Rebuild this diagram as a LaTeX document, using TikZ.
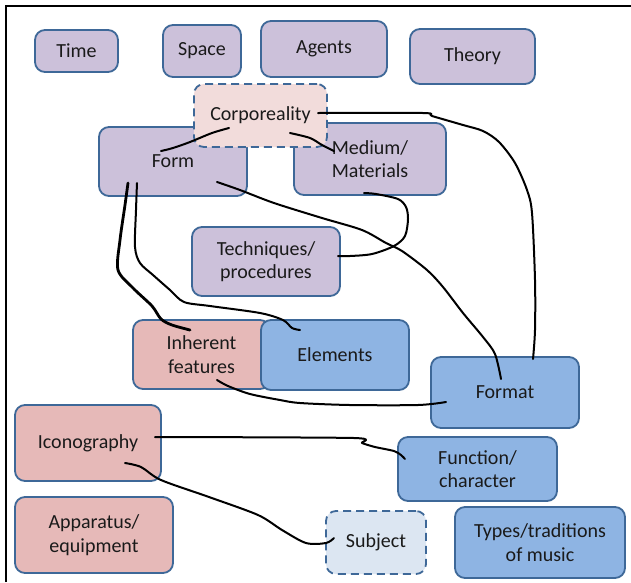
\documentclass[tikz,border=0pt]{standalone}
\usepackage{fontspec}
\setmainfont{Carlito}
\usetikzlibrary{calc}
\definecolor{purp}{HTML}{CCC1DA}
\definecolor{pinkf}{HTML}{E6B9B8}
\definecolor{bluef}{HTML}{8EB4E3}
\definecolor{lpink}{HTML}{F2DCDB}
\definecolor{lblue}{HTML}{DCE6F2}
\definecolor{bord}{RGB}{62,104,152}
\definecolor{txt}{HTML}{1A1A1A}
\begin{document}
\begin{tikzpicture}[x=1pt,y=-1pt,
  box/.style={draw=bord, line width=1.8pt, rounded corners=10pt, inner sep=0pt,
    align=center, font=\fontsize{20}{23.5}\selectfont, text=txt},
  pbox/.style={box, fill=purp},
  rbox/.style={box, fill=pinkf},
  bbox/.style={box, fill=bluef},
  dbox/.style={box, dash pattern=on 8pt off 5pt},
  conn/.style={line width=2pt, line cap=round, line join=round},
  sz/.style 2 args={minimum width=#1pt, minimum height=#2pt}]
\useasboundingbox (0,0) rectangle (631,582);
\fill[white] (0,0) rectangle (631,582);
\draw[line width=2pt] (6,582) -- (6,5.5) -- (631,5.5);

\node[pbox, sz={83}{42}] (time) at (76.5,51) {Time};
\node[pbox, sz={78}{52}] (space) at (202,51) {Space};
\node[pbox, sz={126}{56}] (agents) at (324,49) {Agents};
\node[pbox, sz={125}{55}] (theory) at (472.5,56.5) {Theory};
\node[pbox, sz={148}{69}] (form) at (173,161.5) {Form};
\node[pbox, sz={152}{72}] (medium) at (370,159) {Medium/\\Materials};
\node[dbox, fill=lpink, sz={133}{63}] (corp) at (260.5,115.5) {Corporeality};
\node[pbox, sz={148}{69}] (tech) at (266,261.5) {Techniques/\\procedures};
\node[rbox, sz={137}{69}] (inherent) at (201.5,354.5) {Inherent\\features};
\node[bbox, sz={148}{70}] (elements) at (335,355) {Elements};
\node[bbox, sz={148}{71}] (format) at (505,392.5) {Format};
\node[rbox, sz={146}{76}] (icono) at (88,443) {Iconography};
\node[bbox, sz={159}{64}] (func) at (477.5,469) {Function/\\character};
\node[rbox, sz={158}{76}] (appar) at (94,535) {Apparatus/\\equipment};
\node[dbox, fill=lblue, sz={100}{63}] (subject) at (376,542.5) {Subject};
\node[bbox, sz={170}{71}] (types) at (540,542.5) {Types/traditions\\of music};

% connector end points
\coordinate (a1) at ($(corp.center)+(-31.5,12.5)$);
\coordinate (b1) at ($(form.center)+(-12,-10.5)$);
\coordinate (a2) at ($(corp.center)+(29.5,17.5)$);
\coordinate (b2) at ($(medium.center)+(-36,-8)$);
\coordinate (a3) at ($(corp.center)+(57.5,-2.5)$);
\coordinate (b3) at ($(format.center)+(28,-33.5)$);
\coordinate (a4) at ($(form.center)+(44,20.5)$);
\coordinate (b4) at ($(format.center)+(-4,-13.5)$);
\coordinate (a5) at ($(medium.center)+(-6,34)$);
\coordinate (b5) at ($(tech.center)+(72,-5.5)$);
\coordinate (a6) at ($(form.center)+(-45,21.5)$);
\coordinate (b6) at ($(inherent.center)+(-11.5,-24.5)$);
\coordinate (a7) at ($(form.center)+(-36,21.5)$);
\coordinate (b7) at ($(elements.center)+(-35,-25)$);
\coordinate (a8) at ($(inherent.center)+(15.5,25.5)$);
\coordinate (b8) at ($(format.center)+(-59,9.5)$);
\coordinate (a9) at ($(icono.center)+(67,-6)$);
\coordinate (b9) at ($(func.center)+(-72.5,-10)$);
\coordinate (a10) at ($(icono.center)+(37,20)$);
\coordinate (b10) at ($(subject.center)+(-42,-4.5)$);

\draw[conn] plot[smooth, tension=0.5] coordinates {(a1) (212,133) (190,142) (173,148) (b1)};
\draw[conn] plot[smooth, tension=0.5] coordinates {(a2) (310,138) (322,145) (b2)};
\draw[conn] plot[smooth, tension=0.5] coordinates {(a3) (423,113) (432,116) (463,125) (483,131) (499,142) (515,163) (527,190) (532,213) (535,280) (535,330) (b3)};
\draw[conn] plot[smooth, tension=0.5] coordinates {(a4) (240,190) (274,203) (322,218) (362,230) (386,243) (402,251) (427,270) (443,287) (463,313) (483,337) (495,354) (b4)};
\draw[conn] plot[smooth, tension=0.5] coordinates {(a5) (376,194) (398,199) (406,207) (408,219) (405,236) (394,246) (372,254) (350,256) (b5)};
\draw[conn, line width=2.8pt] plot[smooth, tension=0.5] coordinates {(a6) (125,205) (120,240) (118,270) (133,288) (152,306) (161,319) (172,325) (b6)};
\draw[conn] plot[smooth, tension=0.5] coordinates {(a7) (136,210) (135,247) (140,263) (153,275) (170,290) (184,302) (210,306) (260,313) (283,320) (292,328) (b7)};
\draw[conn] plot[smooth, tension=0.5] coordinates {(a8) (228,386) (250,394) (280,400) (300,403) (350,405) (418,405) (b8)};
\draw[conn] plot[smooth, tension=0.4] coordinates {(a9) (354,438) (362,443) (375,447) (394,451) (401,455) (b9)};
\draw[conn] plot[smooth, tension=0.5] coordinates {(a10) (141,467) (161,480) (209,497) (258,515) (282,530) (306,543) (326,543) (b10)};
\end{tikzpicture}
\end{document}
